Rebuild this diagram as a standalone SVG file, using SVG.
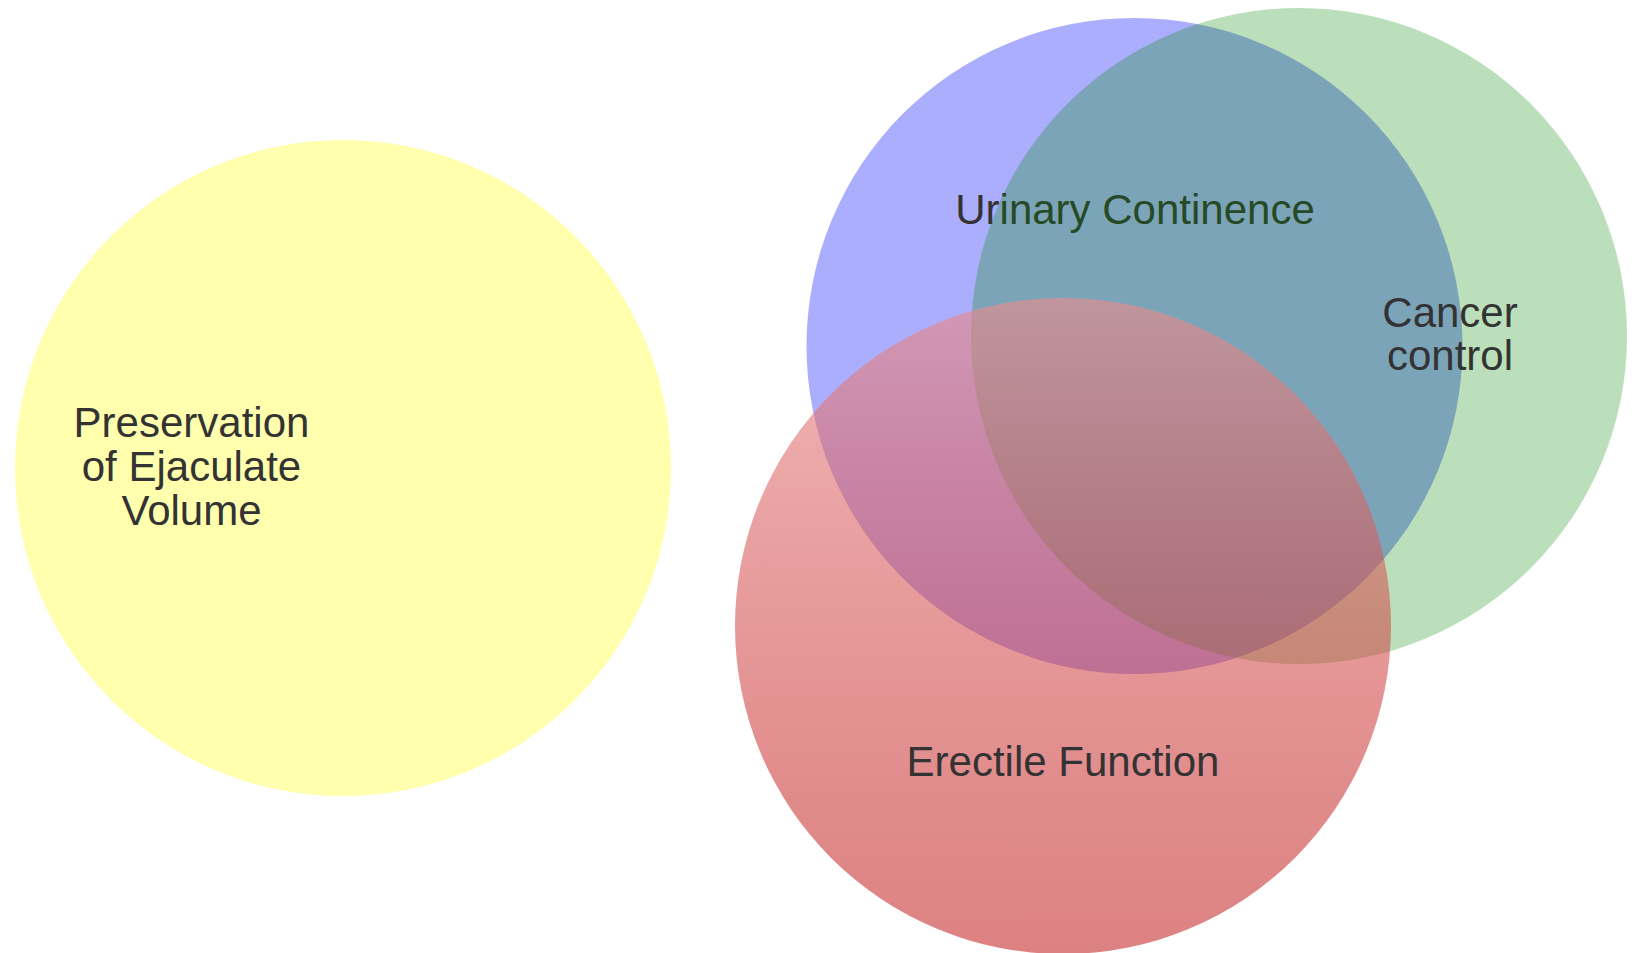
<svg xmlns="http://www.w3.org/2000/svg" width="1632" height="953" viewBox="0 0 1632 953">
  <style>
    .lbl { font-family: "Liberation Sans", Arial, sans-serif; font-size: 42px; fill: #333333; text-anchor: middle; }
  </style>
  <defs>
    <linearGradient id="redGrad" gradientUnits="userSpaceOnUse" x1="0" y1="298" x2="0" y2="954">
      <stop offset="0" stop-color="rgb(234,140,140)" stop-opacity="0.62"/>
      <stop offset="1" stop-color="rgb(186,4,4)" stop-opacity="0.5"/>
    </linearGradient>
  </defs>
  <rect x="0" y="0" width="1632" height="953" fill="#ffffff"/>
  <g id="node-ejaculate">
    <circle cx="343" cy="468" r="328" fill="rgb(255,255,0)" fill-opacity="0.32"/>
    <text class="lbl" x="191.5" y="437">Preservation</text>
    <text class="lbl" x="191.5" y="481">of Ejaculate</text>
    <text class="lbl" x="191.5" y="525">Volume</text>
  </g>
  <g id="node-urinary">
    <circle cx="1134.5" cy="346" r="328" fill="rgb(0,8,250)" fill-opacity="0.33"/>
    <text class="lbl" x="1135" y="224">Urinary Continence</text>
  </g>
  <g id="node-cancer">
    <circle cx="1299" cy="336" r="328" fill="rgb(0,137,0)" fill-opacity="0.27"/>
    <text class="lbl" x="1450" y="327">Cancer</text>
    <text class="lbl" x="1450" y="370">control</text>
  </g>
  <g id="node-erectile">
    <circle cx="1063" cy="626" r="328" fill="url(#redGrad)"/>
    <text class="lbl" x="1063" y="776">Erectile Function</text>
  </g>
  <g id="connectors"></g>
</svg>
